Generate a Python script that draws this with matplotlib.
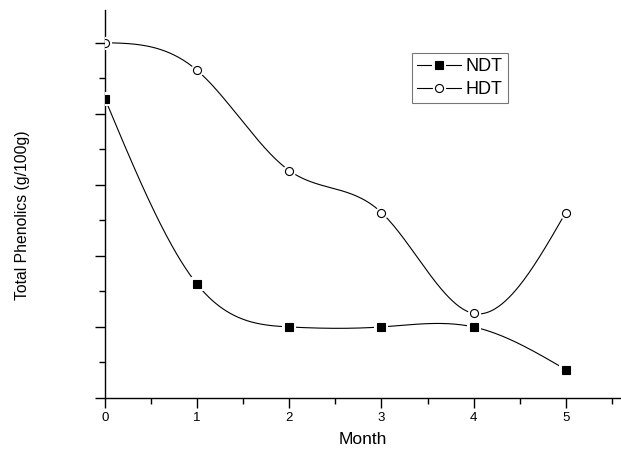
import numpy as np
import matplotlib
matplotlib.use("Agg")
import matplotlib.pyplot as plt
from matplotlib.lines import Line2D

plt.rcParams['font.family'] = ['Liberation Sans', 'DejaVu Sans']

months = [0, 1, 2, 3, 4, 5]
ndt = [4.21, 1.60, 1.00, 1.00, 1.00, 0.40]
hdt = [5.00, 4.61, 3.20, 2.61, 1.19, 2.61]


def natural_spline(x, y, n=400):
    x = np.asarray(x, float)
    y = np.asarray(y, float)
    m = len(x)
    h = np.diff(x)
    A = np.zeros((m, m))
    b = np.zeros(m)
    A[0, 0] = 1
    A[-1, -1] = 1
    for i in range(1, m - 1):
        A[i, i - 1] = h[i - 1]
        A[i, i] = 2 * (h[i - 1] + h[i])
        A[i, i + 1] = h[i]
        b[i] = 3 * ((y[i + 1] - y[i]) / h[i] - (y[i] - y[i - 1]) / h[i - 1])
    c = np.linalg.solve(A, b)
    xs = np.linspace(x[0], x[-1], n)
    ys = np.empty_like(xs)
    for k, xv in enumerate(xs):
        i = min(np.searchsorted(x, xv, side='right') - 1, m - 2)
        dx = xv - x[i]
        bb = (y[i + 1] - y[i]) / h[i] - h[i] * (2 * c[i] + c[i + 1]) / 3
        d = (c[i + 1] - c[i]) / (3 * h[i])
        ys[k] = y[i] + bb * dx + c[i] * dx ** 2 + d * dx ** 3
    return xs, ys


MS = 5.8
HALO = 9.5

fig = plt.figure(figsize=(6.21, 4.54), dpi=100)
ax = fig.add_axes([105 / 621, 56 / 454, 516 / 621, 388 / 454])

for vals, mk, fc in [(ndt, 's', 'black'), (hdt, 'o', 'white')]:
    xs, ys = natural_spline(months, vals)
    ax.plot(xs, ys, color='black', lw=0.8, zorder=2)
    ax.plot(months, vals, linestyle='none', marker=mk, ms=HALO, mfc='white',
            mec='white', mew=0, zorder=3)
    ax.plot(months, vals, linestyle='none', marker=mk, ms=MS, mfc=fc,
            mec='black', mew=0.8, zorder=4)

ax.set_xlim(0, 5.6)
ax.set_ylim(0, 5.46)
ax.set_xticks(months)
ax.set_xticks(np.arange(0.5, 5.6, 1.0), minor=True)
ax.set_yticks([0, 1, 2, 3, 4, 5])
ax.set_yticks(np.arange(0.5, 5.46, 1.0), minor=True)
ax.set_yticklabels([])
ax.tick_params(which='major', direction='out', length=7, width=1, labelsize=9.5, pad=3)
ax.tick_params(which='minor', direction='out', length=4, width=1)
for s in ['top', 'right']:
    ax.spines[s].set_visible(False)
for s in ['left', 'bottom']:
    ax.spines[s].set_linewidth(1)

ax.set_xlabel('Month', fontsize=12.5, labelpad=6)
fig.text(23 / 621, 1 - 215 / 454, 'Total Phenolics (g/100g)', rotation=90,
         fontsize=11.3, ha='center', va='center')


def legend_handle(mk, fc):
    line = Line2D([], [], color='black', lw=0.8)
    halo = Line2D([], [], linestyle='none', marker=mk, ms=HALO, mfc='white', mec='white', mew=0)
    mark = Line2D([], [], linestyle='none', marker=mk, ms=MS, mfc=fc, mec='black', mew=0.8)
    return (line, halo, mark)


handles = [legend_handle('s', 'black'), legend_handle('o', 'white')]
leg = ax.legend(handles, ['NDT', 'HDT'], loc='upper left',
                bbox_to_anchor=((412 - 105) / 516, 1 - (53 - 10) / 388),
                fontsize=13, frameon=True, fancybox=False, handlelength=2.4,
                handletextpad=0.25, borderpad=0.3, labelspacing=0.3,
                borderaxespad=0)
leg.get_frame().set_edgecolor('#555555')
leg.get_frame().set_linewidth(0.8)

fig.savefig('out.png', dpi=100)
